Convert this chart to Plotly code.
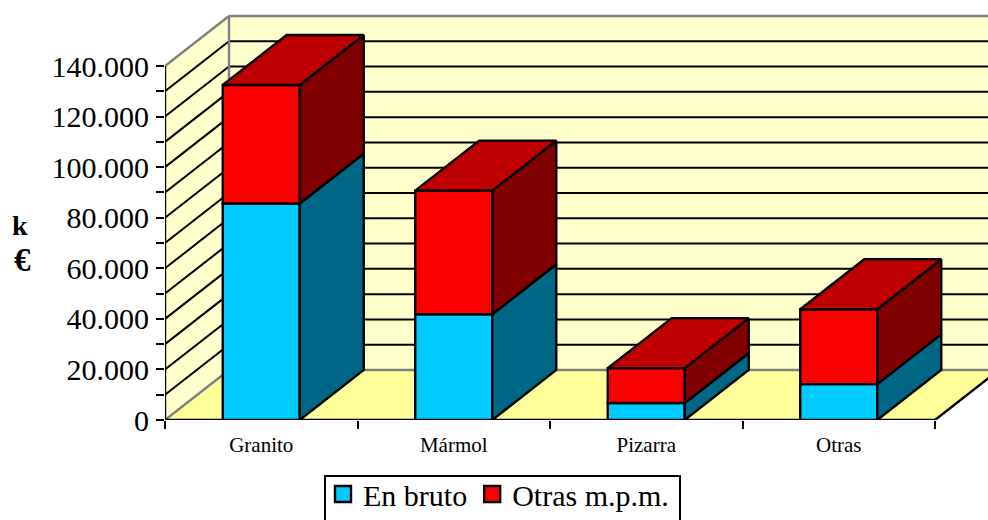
import plotly.graph_objects as go

categories = ["Granito", "Mármol", "Pizarra", "Otras"]
en_bruto = [85600, 41800, 6700, 14200]
otras_mpm = [46900, 48900, 13800, 29600]
y_ticks = [0, 20000, 40000, 60000, 80000, 100000, 120000, 140000]
y_grid = [10000 * i for i in range(1, 15)]

W, H = 988, 520
L, R, T, B = 165, 0, 10, 100
PX_BAND = 192.5
PX_VAL = 354 / 140000
X_MAX = (W - L - R) / PX_BAND
Y_MAX = (H - T - B) / PX_VAL
DX = 64 / PX_BAND          # oblique depth, in axis units
DY = 50 / PX_VAL
BAR_W = 0.4
Y_TOP = 140000
N = len(categories)
centres = [i + 0.5 for i in range(N)]

WALL, FLOOR = "#FFFFCC", "#FFFF99"
GREY = "#808080"
BLUE, BLUE_SIDE = "#00CCFF", "#006685"
RED, RED_SIDE, RED_TOP = "#FF0000", "#800000", "#BF0000"
SERIF = "Liberation Serif, Times New Roman, serif"
EDGE = dict(color="black", width=2.4)
PW, PH = W - L - R, H - T - B


def poly(points, fill, line=None):
    path = "M" + "L".join(f"{x},{y}" for x, y in points) + "Z"
    s = dict(type="path", path=path, fillcolor=fill, layer="below", xref="x", yref="y")
    s["line"] = line if line else dict(width=0)
    return s


def seg(x0, y0, x1, y1, color="black", width=2.4):
    return dict(type="line", x0=x0, y0=y0, x1=x1, y1=y1, xref="x", yref="y",
                layer="below", line=dict(color=color, width=width))


shapes = [
    poly([(0, 0), (DX, DY), (DX, Y_TOP + DY), (0, Y_TOP)], WALL),
    poly([(DX, DY), (X_MAX + 1, DY), (X_MAX + 1, Y_TOP + DY), (DX, Y_TOP + DY)], WALL),
    poly([(0, 0), (DX, DY), (N + DX, DY), (N, 0)], FLOOR),
]
for v in y_grid[:-1]:
    shapes.append(seg(0, v, DX, v + DY, width=2))
    shapes.append(seg(DX, v + DY, X_MAX + 1, v + DY, width=2))
shapes += [
    seg(0, Y_TOP, DX, Y_TOP + DY, GREY),
    seg(DX, Y_TOP + DY, X_MAX + 1, Y_TOP + DY, GREY),
    seg(DX, DY, DX, Y_TOP + DY, GREY),
    seg(0, 0, DX, DY, GREY),
    seg(DX, DY, N + DX, DY, GREY),
    seg(0, 0, 0, Y_TOP),
    seg(0, 0, N, 0),
    seg(N, 0, N + DX, DY),
    # legend frame, open at the bottom edge of the page as in the reference
    dict(type="rect", xref="paper", yref="paper", x0=(325 - L) / PW, x1=(680 - L) / PW,
         y0=-(530 - (H - B)) / PH, y1=-(476 - (H - B)) / PH,
         line=dict(color="black", width=2), fillcolor="white", layer="below"),
]

fig = go.Figure()
for name, vals, base, color in [
    ("En bruto", en_bruto, [0] * N, BLUE),
    ("Otras m.p.m.", otras_mpm, en_bruto, RED),
]:
    fig.add_trace(go.Bar(x=centres, y=vals, base=base, width=BAR_W, name=name,
                         showlegend=False, legendgroup=name,
                         marker=dict(color=color, line=EDGE)))
    fig.add_trace(go.Scatter(x=[None], y=[None], mode="markers", name=name, legendgroup=name,
                             marker=dict(symbol="square", size=16, color=color,
                                         line=dict(color="black", width=2.4))))


def face(points, color):
    xs, ys = zip(*points)
    fig.add_trace(go.Scatter(x=list(xs) + [xs[0]], y=list(ys) + [ys[0]], mode="lines",
                             fill="toself", fillcolor=color, line=EDGE,
                             showlegend=False, hoverinfo="skip"))


for c, a, b in zip(centres, en_bruto, otras_mpm):
    x0, x1 = c - BAR_W / 2, c + BAR_W / 2
    top = a + b
    face([(x1, 0), (x1 + DX, DY), (x1 + DX, a + DY), (x1, a)], BLUE_SIDE)
    face([(x1, a), (x1 + DX, a + DY), (x1 + DX, top + DY), (x1, top)], RED_SIDE)
    face([(x0, top), (x0 + DX, top + DY), (x1 + DX, top + DY), (x1, top)], RED_TOP)

fig.update_layout(
    width=W, height=H, autosize=False,
    margin=dict(l=L, r=R, t=T, b=B, pad=0, autoexpand=False),
    paper_bgcolor="white", plot_bgcolor="white",
    barmode="overlay", separators=",.",
    font=dict(family=SERIF, color="black"),
    shapes=shapes,
    legend=dict(orientation="h", x=(323 - L) / PW, xanchor="left",
                y=-(468 - (H - B)) / PH, yanchor="top",
                borderwidth=0, bgcolor="rgba(0,0,0,0)",
                itemwidth=30, tracegroupgap=0,
                font=dict(family=SERIF, size=30, color="black")),
    annotations=[
        dict(text="<b>k</b>", x=(20 - L) / PW, y=(H - B - 225) / PH, xanchor="center",
             xref="paper", yref="paper", showarrow=False, font=dict(size=28)),
        dict(text="<b>€</b>", x=(22 - L) / PW, y=(H - B - 260) / PH, xanchor="center",
             xref="paper", yref="paper", showarrow=False, font=dict(size=33)),
    ],
)
fig.update_xaxes(range=[0, X_MAX], tickmode="array", tickvals=centres, ticktext=categories,
                 ticklen=0, showgrid=False, zeroline=False, showline=False,
                 ticklabelstandoff=10, tickfont=dict(size=21, family=SERIF),
                 minor=dict(tickmode="array", tickvals=list(range(N + 1)), ticks="outside",
                            ticklen=8, tickwidth=2, tickcolor="black", showgrid=False))
fig.update_yaxes(range=[0, Y_MAX], tickmode="array", tickvals=y_ticks, tickformat=",d",
                 ticks="outside", ticklen=8, tickwidth=2, tickcolor="black",
                 showgrid=False, zeroline=False, showline=False,
                 ticklabelstandoff=1, tickfont=dict(size=30, family=SERIF),
                 minor=dict(tickmode="array", tickvals=y_grid, ticks="outside",
                            ticklen=8, tickwidth=2, tickcolor="black", showgrid=False))

fig.write_html("out.html", config={"displayModeBar": False},
               post_script="document.body.style.margin='0';")
